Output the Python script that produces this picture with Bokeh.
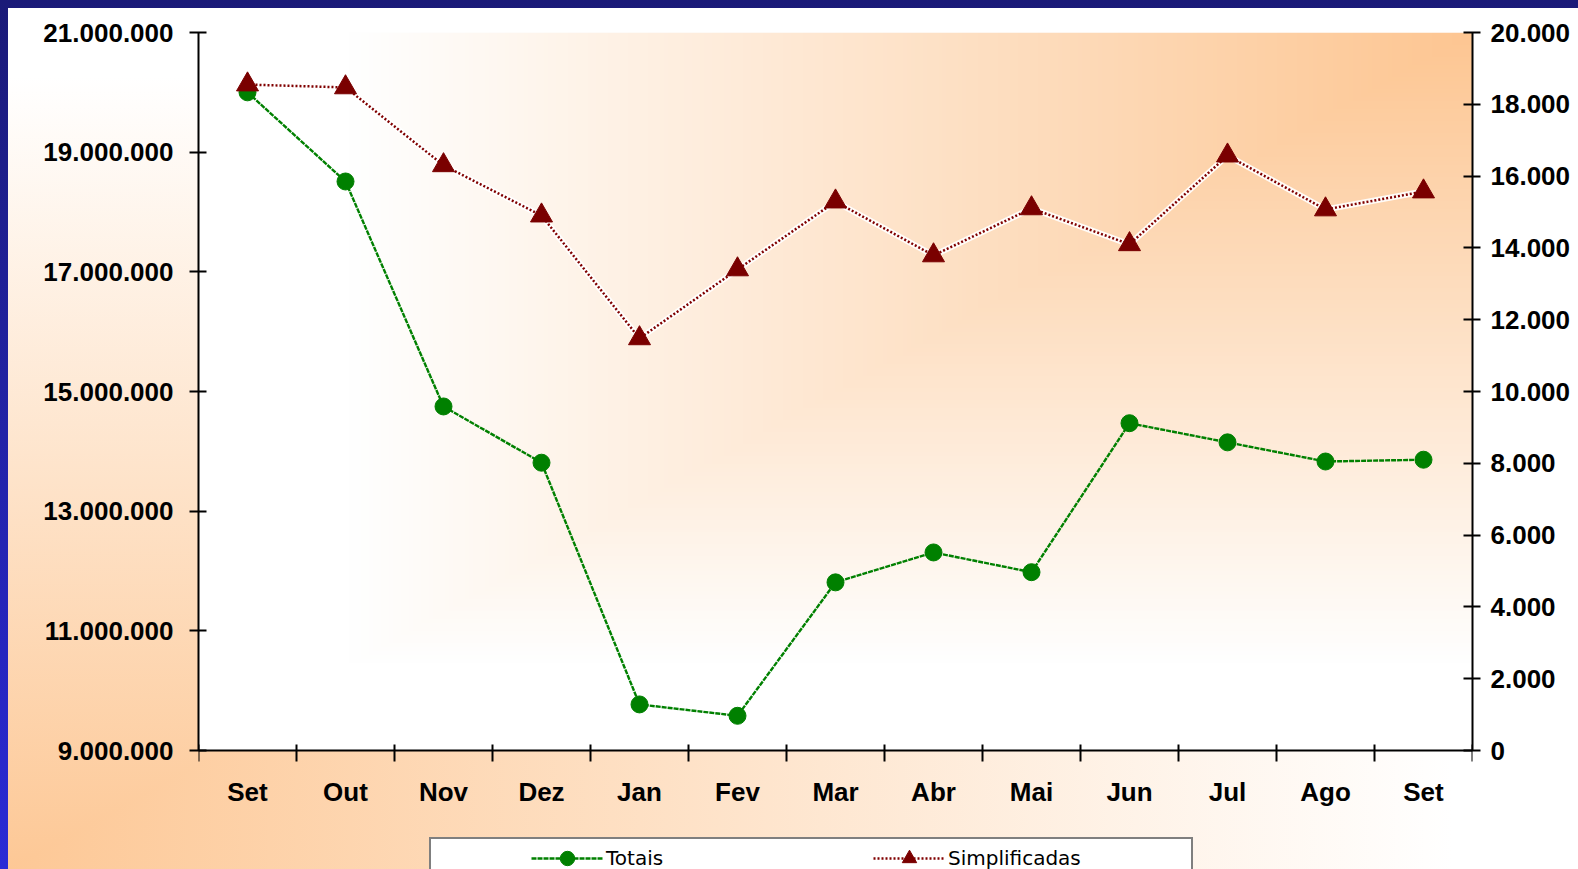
import numpy as np
from bokeh.plotting import figure
from bokeh.models import Range1d, LinearAxis, FixedTicker, Legend, LegendItem
from bokeh.core.properties import value
from bokeh.embed import file_html
from bokeh.resources import INLINE

# ---------------- data ----------------
months = ["Set", "Out", "Nov", "Dez", "Jan", "Fev", "Mar", "Abr", "Mai", "Jun", "Jul", "Ago", "Set"]
totais = [20000000, 18510000, 14750000, 13810000, 9770000, 9580000, 11810000,
          12310000, 11980000, 14470000, 14150000, 13830000, 13860000]
simplificadas = [18550, 18470, 16300, 14900, 11480, 13400, 15290,
                 13790, 15100, 14100, 16570, 15070, 15570]
left_ticks = [9000000, 11000000, 13000000, 15000000, 17000000, 19000000, 21000000]
left_labels = ["9.000.000", "11.000.000", "13.000.000", "15.000.000",
               "17.000.000", "19.000.000", "21.000.000"]
right_ticks = [0, 2000, 4000, 6000, 8000, 10000, 12000, 14000, 16000, 18000, 20000]
right_labels = ["0", "2.000", "4.000", "6.000", "8.000", "10.000", "12.000",
                "14.000", "16.000", "18.000", "20.000"]
series_names = ["Totais", "Simplificadas"]

# ---------------- geometry ----------------
n = len(months)
xs = [i + 0.5 for i in range(n)]
x0, x1 = 0, n
yl0, yl1 = left_ticks[0], left_ticks[-1]
yr0, yr1 = right_ticks[0], right_ticks[-1]
FIG_W, FIG_H = 1570, 861
B_LEFT, B_RIGHT, B_TOP = 190, 106, 24
PLOT_PX = 718                      # pixel height of the plotted 9M..21M band
FRAME_PX = FIG_H - B_TOP           # frame runs to the bottom (room for the legend)
py = (yl1 - yl0) / PLOT_PX         # left-axis units per pixel
ext = FRAME_PX / PLOT_PX

p = figure(width=FIG_W, height=FIG_H, output_backend="svg", toolbar_location=None,
           x_axis_location=None,
           x_range=Range1d(x0, x1), y_range=Range1d(yl1 - (yl1 - yl0) * ext, yl1),
           min_border_left=B_LEFT, min_border_right=B_RIGHT, min_border_top=B_TOP,
           min_border_bottom=0)
p.extra_y_ranges = {"right": Range1d(yr1 - (yr1 - yr0) * ext, yr1)}
p.grid.visible = False
p.outline_line_color = None
p.background_fill_color = None
p.border_fill_color = None
p.styles = {
    "background-color": "white",
    "background-image": ("linear-gradient(to right, rgb(253,200,150) 0%, #ffffff 92%), "
                         "linear-gradient(to top, rgb(253,200,150) 0%, #ffffff 92%)"),
    "background-blend-mode": "lighten, normal",
}

# plot-area gradient (from the top-right corner)
W, H = 320, 180
u = (np.arange(W) + 0.5) / W
v = (np.arange(H) + 0.5) / H
t = np.maximum((1 - u)[None, :], (1 - v)[:, None])
t = np.clip(t / 0.88, 0, 1)
corner = np.array([253, 198, 146], dtype=float)
white = np.array([255, 255, 255], dtype=float)
rgb = corner[None, None, :] * (1 - t[..., None]) + white[None, None, :] * t[..., None]
img = np.empty((H, W), dtype=np.uint32)
view = img.view(dtype=np.uint8).reshape((H, W, 4))
view[..., :3] = rgb.astype(np.uint8)
view[..., 3] = 255
p.image_rgba(image=[img], x=x0, y=yl0, dw=x1 - x0, dh=yl1 - yl0, level="underlay")

# ---------------- series ----------------
g_line = p.line(xs, totais, line_color="#008000", line_width=2.4, line_dash="5 1")
g_pts = p.scatter(xs, totais, marker="circle", size=17,
                  fill_color="#008000", line_color="#008000")
r_halo = p.line(xs, simplificadas, y_range_name="right", line_color="white",
                line_width=6, line_alpha=0.9)
r_line = p.line(xs, simplificadas, y_range_name="right", line_color="#800000",
                line_width=2.5, line_dash="2 2")
r_pts = p.scatter(xs, simplificadas, y_range_name="right", marker="triangle", size=22,
                  fill_color="#7a0000", line_color="#7a0000")

# ---------------- axes ----------------
font = "Liberation Sans"

def style_axis(ax):
    ax.axis_line_color = "black"
    ax.axis_line_width = 2
    ax.major_tick_line_color = "black"
    ax.major_tick_line_width = 2
    ax.major_label_text_font = font
    ax.major_label_text_font_style = "bold"
    ax.major_label_text_font_size = "26px"
    ax.major_label_text_color = "black"
    ax.minor_tick_in = 0
    ax.minor_tick_out = 0

ya = p.yaxis[0]
style_axis(ya)
ya.bounds = (yl0, yl1)
ya.ticker = FixedTicker(ticks=left_ticks)
ov = {}
for tv, lb in zip(left_ticks, left_labels):
    ov[tv] = lb
    ov[str(tv)] = lb
ya.major_label_overrides = ov
ya.major_tick_in = 8
ya.major_tick_out = 9
ya.major_label_standoff = 16

ra = LinearAxis(y_range_name="right", ticker=FixedTicker(ticks=right_ticks))
style_axis(ra)
ra.bounds = (yr0, yr1)
ov = {}
for tv, lb in zip(right_ticks, right_labels):
    ov[tv] = lb
    ov[str(tv)] = lb
ra.major_label_overrides = ov
ra.major_tick_in = 9
ra.major_tick_out = 8
ra.major_label_standoff = 10
p.add_layout(ra, "right")

# category axis drawn at the 9.000.000 baseline
bounds_x = list(range(x0, x1 + 1))
p.segment(x0=[x0], y0=[yl0], x1=[x1], y1=[yl0], line_color="black", line_width=2)
p.segment(x0=bounds_x, y0=[yl0 - 11 * py] * len(bounds_x),
          x1=bounds_x, y1=[yl0 + 6 * py] * len(bounds_x),
          line_color="black", line_width=2)
p.text(x=xs, y=[yl0] * n, text=months, text_align="center", text_baseline="middle",
       y_offset=41, text_font=value(font), text_font_style="bold",
       text_font_size="26px", text_color="black")

# ---------------- legend ----------------
dummy = p.line(x=[], y=[], line_alpha=0)
box = Legend(items=[LegendItem(label=" ", renderers=[dummy])],
             location=(231, -12), orientation="horizontal",
             padding=0, margin=0, spacing=0, label_standoff=0,
             glyph_width=1, glyph_height=40, label_width=759, label_height=40,
             border_line_color="black", border_line_width=2,
             background_fill_color="white", background_fill_alpha=1.0,
             label_text_font_size="2px")
p.add_layout(box, "center")

leg = Legend(items=[LegendItem(label=series_names[0], renderers=[g_line, g_pts]),
                    LegendItem(label=series_names[1], renderers=[r_halo, r_line, r_pts])],
             location=(333, -7), orientation="horizontal",
             padding=0, margin=0, spacing=67, label_standoff=3,
             glyph_width=72, glyph_height=36, label_width=200, label_height=36,
             border_line_alpha=0, background_fill_alpha=0,
             label_text_font="DejaVu Sans", label_text_font_size="20px",
             label_text_color="black")
p.add_layout(leg, "center")

html = file_html(p, INLINE, title="Totais e Simplificadas")
style = ("<style>html,body{overflow:hidden;}"
         "body{margin:8px 0 0 8px;background:linear-gradient(to bottom,#1a1a78,#2a2ad6);}</style>")
html = html.replace("</head>", style + "</head>", 1)
with open("out.html", "w") as f:
    f.write(html)
